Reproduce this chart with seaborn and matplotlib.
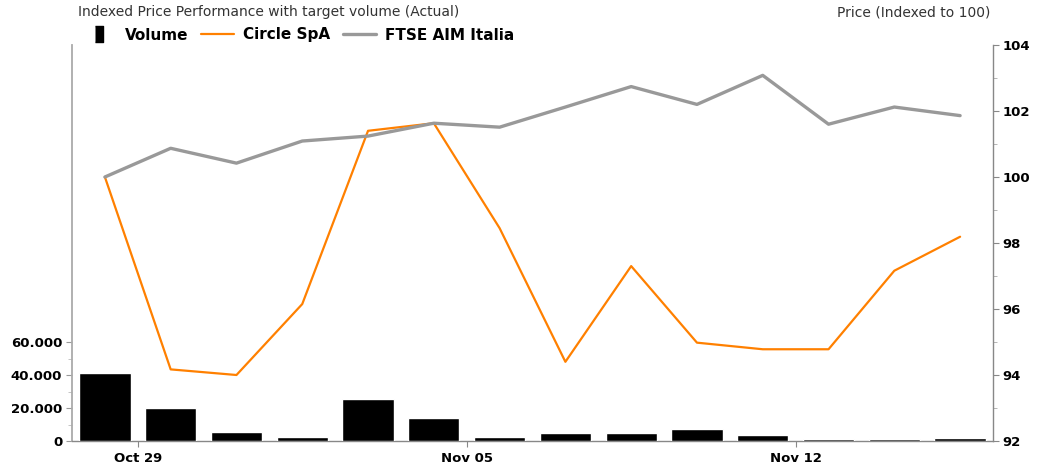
import numpy as np
import pandas as pd
import matplotlib
matplotlib.use("Agg")
import matplotlib.pyplot as plt
from matplotlib.lines import Line2D
from matplotlib.ticker import FixedLocator, FuncFormatter
import seaborn as sns

# data (trading days, Oct 26 - Nov 14)
days = list(range(14))
volume = [41150, 20270, 5530, 2600, 25180, 14120, 2600,
          4910, 4910, 7370, 3800, 1500, 1500, 2000]
circle = [100, 94.17, 94.0, 96.15, 101.40, 101.63, 98.45,
          94.40, 97.30, 94.98, 94.78, 94.78, 97.16, 98.19]
ftse = [100, 100.87, 100.42, 101.09, 101.24, 101.63, 101.51,
        102.12, 102.74, 102.20, 103.08, 101.60, 102.12, 101.86]
tick_pos = [0.5, 5.5, 10.5]
tick_labels = ["Oct 29", "Nov 05", "Nov 12"]

df = pd.DataFrame({"day": days, "volume": volume,
                   "circle": circle, "ftse": ftse})

sns.set_style("white")
plt.rcParams['font.family'] = ['DejaVu Sans']

fig = plt.figure(figsize=(10.63, 4.66), dpi=100)
ax = fig.add_axes([72 / 1063, 25 / 466, 921 / 1063, 396 / 466])

#%% volume bars (left axis)
sns.barplot(data=df, x="day", y="volume", color="black", width=0.78,
            saturation=1, ax=ax)
for p in ax.patches:
    p.set_zorder(3)
ax.set_ylim(0, 240000)
ax.set_xlim(-0.5, 13.5)
ax.yaxis.set_major_locator(FixedLocator([0, 20000, 40000, 60000]))
ax.yaxis.set_minor_locator(FixedLocator([10000, 30000, 50000]))
ax.yaxis.set_major_formatter(
    FuncFormatter(lambda v, p: f"{int(v):,}".replace(",", ".")))
ax.set_xticks(tick_pos)
ax.set_xticklabels(tick_labels)
ax.set_xlabel("")
ax.set_ylabel("")

#%% price lines (right axis)
ax2 = ax.twinx()
sns.lineplot(data=df, x="day", y="circle", color="#ff8000", linewidth=1.6, ax=ax2)
sns.lineplot(data=df, x="day", y="ftse", color="#999999", linewidth=2.4, ax=ax2)
ax2.set_ylim(92, 104)
ax2.set_xlim(-0.5, 13.5)
ax2.yaxis.set_major_locator(FixedLocator([92, 94, 96, 98, 100, 102, 104]))
ax2.yaxis.set_minor_locator(FixedLocator([93, 95, 97, 99, 101, 103]))
ax2.set_xlabel("")
ax2.set_ylabel("")

for a in (ax, ax2):
    for s in a.spines.values():
        s.set_visible(False)
ax.spines["left"].set_visible(True)
ax.spines["left"].set_color("#aaaaaa")
ax.spines["left"].set_linewidth(1.3)
ax.spines["bottom"].set_visible(True)
ax.spines["bottom"].set_color("#888888")
ax.spines["bottom"].set_linewidth(1.0)
ax2.spines["right"].set_visible(True)
ax2.spines["right"].set_color("#888888")
ax2.spines["right"].set_linewidth(1.0)

ax.tick_params(axis="y", which="major", length=4, color="#999999",
               labelsize=9.5, pad=3, left=True)
ax.tick_params(axis="y", which="minor", length=3, color="#bbbbbb", left=True)
ax.tick_params(axis="x", length=4, color="#888888", labelsize=9.5, pad=4, bottom=True)
ax2.tick_params(axis="y", which="major", length=4, color="#888888",
                labelsize=9.5, pad=3, right=True)
ax2.tick_params(axis="y", which="minor", length=3, color="#aaaaaa", right=True)
for lbl in ax.get_yticklabels() + ax.get_xticklabels() + ax2.get_yticklabels():
    lbl.set_fontweight("bold")
    lbl.set_color("black")

#%% titles and legend
fig.text(78 / 1063, 1 - 12 / 466, "Indexed Price Performance with target volume (Actual)",
         ha="left", va="center", fontsize=10, color="#333333")
fig.text(990 / 1063, 1 - 12 / 466, "Price (Indexed to 100)",
         ha="right", va="center", fontsize=10, color="#333333")

bar_marker = [(-0.5, -1), (0.5, -1), (0.5, 1), (-0.5, 1)]
handles = [
    Line2D([], [], marker=bar_marker, markersize=12, color="black", linestyle="none"),
    Line2D([], [], color="#ff8000", linewidth=1.6),
    Line2D([], [], color="#999999", linewidth=2.4),
]
leg = fig.legend(handles, ["Volume", "Circle SpA", "FTSE AIM Italia"],
                 loc="center left", bbox_to_anchor=(82 / 1063, 1 - 35 / 466),
                 ncol=3, frameon=False, handlelength=2.2, handletextpad=0.6,
                 columnspacing=0.8, borderaxespad=0, borderpad=0,
                 labelcolor="black",
                 prop={"weight": "bold", "size": 11})

fig.savefig("out.png", dpi=100)
